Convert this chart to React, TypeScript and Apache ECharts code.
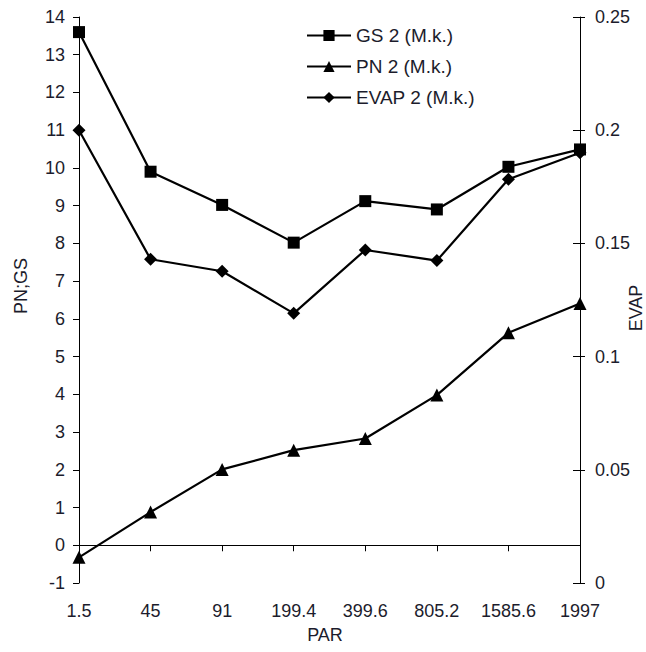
import React, { useEffect, useRef } from "react";
import * as echarts from "echarts";

const categories = ["1.5", "45", "91", "199.4", "399.6", "805.2", "1585.6", "1997"];
const gsValues = [13.6, 9.9, 9.02, 8.02, 9.12, 8.9, 10.03, 10.49];
const pnValues = [-0.32, 0.88, 2.01, 2.52, 2.83, 3.98, 5.63, 6.41];
const evapValues = [0.2, 0.143, 0.1377, 0.1191, 0.1471, 0.1424, 0.1783, 0.19];

const FONT = "'Liberation Sans', Arial, sans-serif";
const TXT = "#1c1c2c";
const FS = 18;

export default function App() {
  const ref = useRef<HTMLDivElement>(null);
  useEffect(() => {
    if (!ref.current) return;
    const chart = echarts.init(ref.current, null, { renderer: "svg" });
    const lineStyle = { color: "#000", width: 2.2 };
    const titleStyle = (text: string) => ({
      text,
      font: `${FS}px ${FONT}`,
      fill: TXT,
      textAlign: "center",
      textVerticalAlign: "middle",
      align: "center",
      verticalAlign: "middle",
    });
    chart.setOption({
      animation: false,
      backgroundColor: "#fff",
      textStyle: { fontFamily: FONT },
      grid: { left: 79, right: 66, top: 17, bottom: 69, containLabel: false },
      legend: {
        orient: "vertical",
        left: 306,
        top: 26,
        padding: 0,
        itemWidth: 44,
        itemHeight: 14,
        itemGap: 12,
        textStyle: { fontFamily: FONT, fontSize: 19, color: TXT, lineHeight: 14 },
        data: ["GS 2 (M.k.)", "PN 2 (M.k.)", "EVAP 2 (M.k.)"],
      },
      xAxis: [
        {
          type: "category",
          data: categories,
          boundaryGap: false,
          axisLine: { onZero: true, onZeroAxisIndex: 0, lineStyle: { color: "#000", width: 1 } },
          axisTick: { show: true, inside: false, length: 6, lineStyle: { color: "#000" } },
          axisLabel: { show: false },
          splitLine: { show: false },
        },
        {
          type: "category",
          data: categories,
          boundaryGap: false,
          position: "bottom",
          axisLine: { show: false, onZero: false },
          axisTick: { show: false },
          axisLabel: { show: true, margin: 19, fontFamily: FONT, fontSize: FS, color: TXT, interval: 0 },
          splitLine: { show: false },
        },
      ],
      yAxis: [
        {
          type: "value",
          min: -1,
          max: 14,
          interval: 1,
          position: "left",
          axisLine: { show: true, onZero: false, lineStyle: { color: "#000", width: 1 } },
          axisTick: { show: true, inside: false, length: 6, lineStyle: { color: "#000" } },
          axisLabel: { margin: 14, fontFamily: FONT, fontSize: FS, color: TXT },
          splitLine: { show: false },
        },
        {
          type: "value",
          min: 0,
          max: 0.25,
          interval: 0.05,
          position: "right",
          axisLine: { show: true, onZero: false, lineStyle: { color: "#000", width: 1 } },
          axisTick: { show: true, inside: false, length: 5, lineStyle: { color: "#000" } },
          axisLabel: { margin: 15, fontFamily: FONT, fontSize: FS, color: TXT },
          splitLine: { show: false },
        },
        {
          type: "value",
          min: 0,
          max: 0.25,
          interval: 0.05,
          position: "right",
          axisLine: { show: false, onZero: false },
          axisTick: { show: true, inside: true, length: 7, lineStyle: { color: "#000" } },
          axisLabel: { show: false },
          splitLine: { show: false },
        },
      ],
      graphic: [
        { type: "text", x: 21, y: 286, rotation: Math.PI / 2, style: titleStyle("PN;GS") },
        { type: "text", x: 636, y: 308, rotation: Math.PI / 2, style: titleStyle("EVAP") },
        { type: "text", x: 325, y: 635, style: titleStyle("PAR") },
      ],
      series: [
        {
          name: "GS 2 (M.k.)",
          type: "line",
          xAxisIndex: 0,
          yAxisIndex: 0,
          data: gsValues,
          symbol: "rect",
          symbolSize: 12,
          lineStyle,
          itemStyle: { color: "#000" },
          z: 3,
        },
        {
          name: "PN 2 (M.k.)",
          type: "line",
          xAxisIndex: 0,
          yAxisIndex: 0,
          data: pnValues,
          symbol: "triangle",
          symbolSize: 13,
          lineStyle,
          itemStyle: { color: "#000" },
          z: 3,
        },
        {
          name: "EVAP 2 (M.k.)",
          type: "line",
          xAxisIndex: 0,
          yAxisIndex: 1,
          data: evapValues,
          symbol: "diamond",
          symbolSize: 13,
          lineStyle,
          itemStyle: { color: "#000" },
          z: 3,
        },
      ],
    });
    return () => chart.dispose();
  }, []);
  return <div ref={ref} style={{ width: 646, height: 652, position: "fixed", left: 0, top: 0 }} />;
}
